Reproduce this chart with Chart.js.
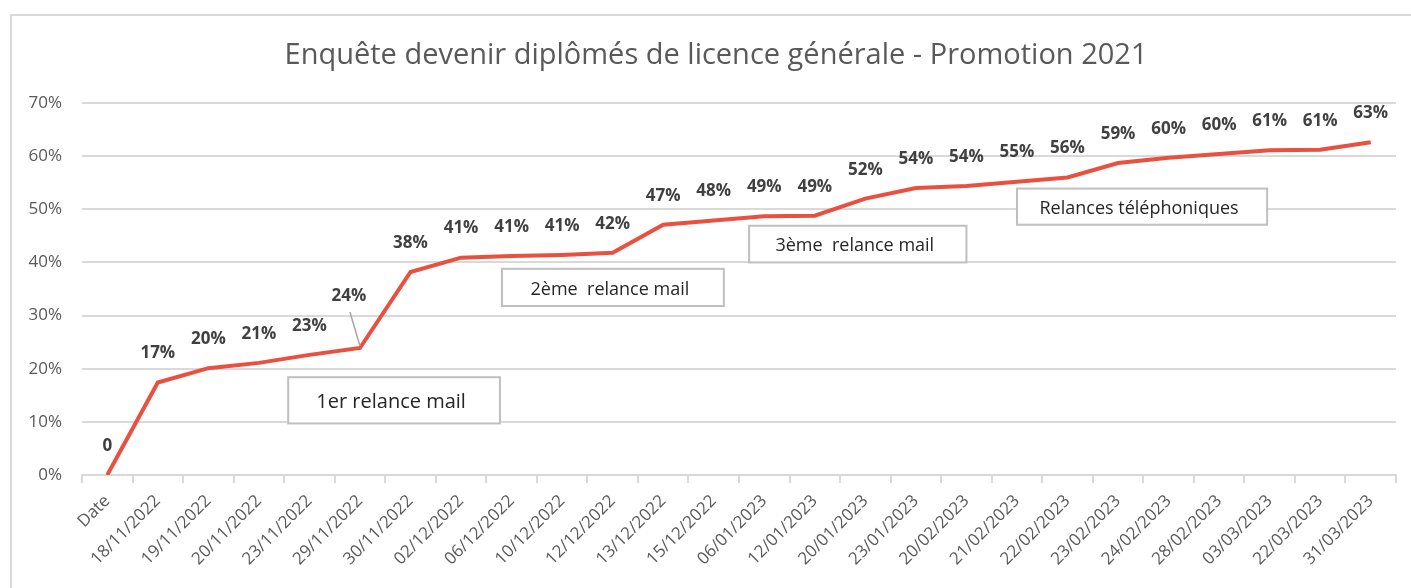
<!DOCTYPE html>
<html>
<head>
<meta charset="utf-8">
<script src="https://cdn.jsdelivr.net/npm/chart.js@4"></script>
<style>
  body { margin: 0; background: #fff; }
</style>
</head>
<body>
<canvas id="myChart" width="1411" height="588"></canvas>
<script>
const titre = 'Enquête devenir diplômés de licence générale - Promotion 2021';
const dates = ['Date', '18/11/2022', '19/11/2022', '20/11/2022', '23/11/2022', '29/11/2022',
  '30/11/2022', '02/12/2022', '06/12/2022', '10/12/2022', '12/12/2022', '13/12/2022',
  '15/12/2022', '06/01/2023', '12/01/2023', '20/01/2023', '23/01/2023', '20/02/2023',
  '21/02/2023', '22/02/2023', '23/02/2023', '24/02/2023', '28/02/2023', '03/03/2023',
  '22/03/2023', '31/03/2023'];
// taux de réponse cumulé, en %
const taux = [0, 17.4, 20.1, 21.1, 22.6, 23.9, 38.2, 40.9, 41.2, 41.4, 41.8, 47.1, 47.9,
  48.7, 48.8, 52.0, 54.0, 54.4, 55.2, 56.0, 58.7, 59.7, 60.4, 61.1, 61.2, 62.6];
const yTicks = [0, 10, 20, 30, 40, 50, 60, 70];
const relances = ['1er relance mail', '2ème  relance mail', '3ème  relance mail', 'Relances téléphoniques'];

// boxes are placed in axis units: category index (x) and % (y)
const boxes = [
  { x0: 3.58, x1: 7.77, yTop: 18.4, yBot: 9.7, size: 20 },
  { x0: 7.81, x1: 12.2, yTop: 38.8, yBot: 31.8, size: 18 },
  { x0: 12.7, x1: 17.0, yTop: 46.9, yBot: 40.0, size: 18 },
  { x0: 18.0, x1: 22.95, yTop: 53.9, yBot: 47.1, size: 18 }
];

const excelExtras = {
  id: 'excelExtras',
  afterDatasetsDraw(chart) {
    const { ctx, scales: { x, y } } = chart;
    ctx.save();
    boxes.forEach((b, i) => {
      const l = x.getPixelForValue(b.x0), r = x.getPixelForValue(b.x1);
      const t = y.getPixelForValue(b.yTop), bt = y.getPixelForValue(b.yBot);
      ctx.fillStyle = '#fff';
      ctx.fillRect(l, t, r - l, bt - t);
      ctx.strokeStyle = '#bfbfbf';
      ctx.lineWidth = 2;
      ctx.strokeRect(l, t, r - l, bt - t);
      ctx.fillStyle = '#262626';
      ctx.font = b.size + 'px "Open Sans"';
      ctx.textAlign = 'center';
      ctx.textBaseline = 'middle';
      ctx.fillText(relances[i], (l + r) / 2 - 3, (t + bt) / 2 + 2);
    });

    // data labels
    const meta = chart.getDatasetMeta(0);
    ctx.font = 'bold 17px "Open Sans"';
    ctx.fillStyle = '#404040';
    ctx.textAlign = 'center';
    ctx.textBaseline = 'middle';
    meta.data.forEach((pt, i) => {
      const v = taux[i];
      const txt = v === 0 ? '0' : Math.round(v) + '%';
      if (i === 5) {
        // label dragged up-left with a leader line
        const lx = pt.x - 11, ly = pt.y - 52;
        ctx.strokeStyle = '#a6a6a6';
        ctx.lineWidth = 1.5;
        ctx.beginPath();
        ctx.moveTo(lx + 1, ly + 16);
        ctx.lineTo(pt.x, pt.y - 2);
        ctx.stroke();
        ctx.fillText(txt, lx, ly);
      } else {
        ctx.fillText(txt, pt.x, pt.y - 29);
      }
    });
    ctx.restore();
  },
  afterDraw(chart) {
    const ctx = chart.ctx;
    ctx.save();
    ctx.strokeStyle = '#d9d9d9';
    ctx.lineWidth = 2;
    ctx.beginPath();
    ctx.moveTo(11, 588);
    ctx.lineTo(11, 15);
    ctx.lineTo(1411, 15);
    ctx.stroke();
    ctx.fillStyle = '#595959';
    ctx.font = '29px "Open Sans"';
    ctx.textAlign = 'center';
    ctx.textBaseline = 'middle';
    ctx.fillText(titre, 716, 56);
    ctx.restore();
  }
};

new Chart(document.getElementById('myChart'), {
  type: 'line',
  data: {
    labels: dates,
    datasets: [{
      data: taux,
      borderColor: '#E9503F',
      borderWidth: 4,
      pointRadius: 0,
      tension: 0
    }]
  },
  options: {
    responsive: false,
    animation: false,
    layout: { padding: { top: 103, left: 14, right: 15, bottom: 0 } },
    plugins: {
      legend: { display: false },
      tooltip: { enabled: false }
    },
    scales: {
      x: {
        offset: true,
        grid: { offset: true, drawOnChartArea: false, color: '#d9d9d9', tickLength: 8, lineWidth: 2 },
        border: { color: '#d9d9d9', width: 2 },
        ticks: {
          minRotation: 45, maxRotation: 45, autoSkip: false,
          color: '#595959', font: { family: 'Open Sans', size: 17 }, padding: 8
        },
        afterFit: s => { s.height = 113; }
      },
      y: {
        min: 0, max: 70,
        afterBuildTicks: s => { s.ticks = yTicks.map(v => ({ value: v })); },
        ticks: {
          callback: v => v + '%',
          color: '#595959', font: { family: 'Open Sans', size: 17 }, padding: 20
        },
        grid: { color: '#d9d9d9', drawTicks: false, lineWidth: 2 },
        border: { display: false },
        afterFit: s => { s.width = 68; }
      }
    }
  },
  plugins: [excelExtras]
});
</script>
</body>
</html>
